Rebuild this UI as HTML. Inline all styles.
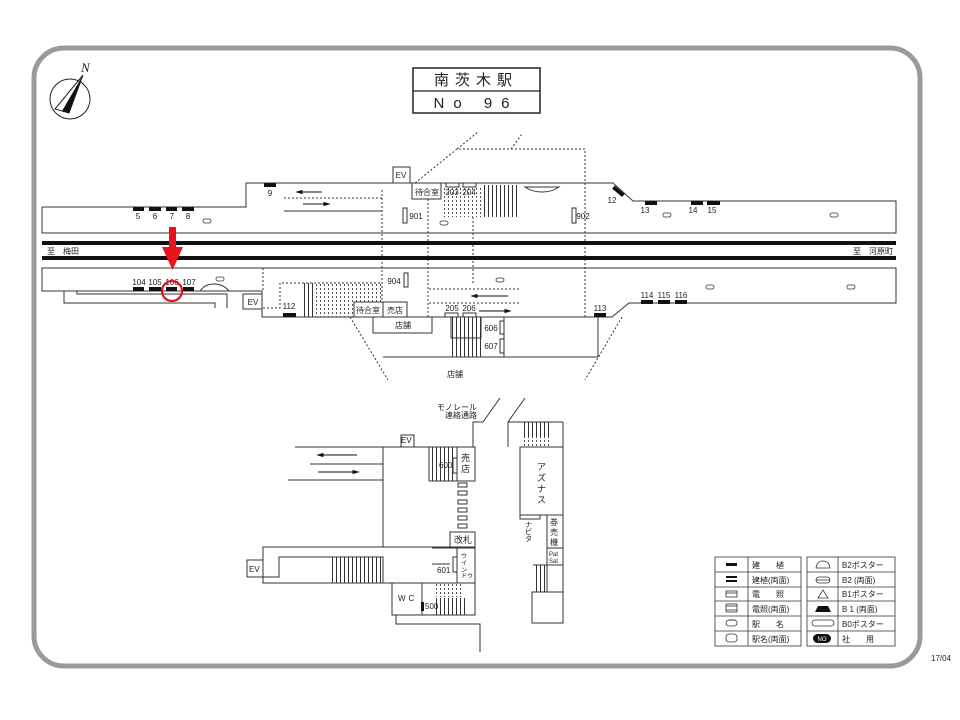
<!DOCTYPE html>
<html><head><meta charset="utf-8"><style>
html,body{margin:0;padding:0;background:#fff}
svg{display:block}
text{font-family:"Liberation Sans","Noto Sans CJK JP",sans-serif;fill:#222}
</style></head><body>
<svg width="960" height="720" viewBox="0 0 960 720" xmlns="http://www.w3.org/2000/svg">
<defs>
<pattern id="dots" width="4" height="4" patternUnits="userSpaceOnUse"><rect width="1" height="2" fill="#555"/></pattern>
<pattern id="vl" width="4" height="4" patternUnits="userSpaceOnUse"><rect width="1" height="4" fill="#333"/></pattern>
</defs>
<rect x="34" y="48" width="886" height="618" rx="30" fill="none" stroke="#9a9a9a" stroke-width="5"/>
<!-- compass -->
<circle cx="70" cy="99" r="20" fill="none" stroke="#222" stroke-width="1"/>
<polygon points="83,75 55,109 69,113" fill="none" stroke="#222"/>
<polygon points="83,75 62,111 69,113" fill="#111"/>
<text x="81" y="72" style="font-family:'Liberation Serif',serif;font-style:italic" font-size="13">N</text>
<!-- title -->
<rect x="413" y="68" width="127" height="45" fill="none" stroke="#222" stroke-width="1.5"/>
<line x1="413" y1="91" x2="540" y2="91" stroke="#222" stroke-width="1.2"/>
<text x="476" y="85" font-size="15" text-anchor="middle" letter-spacing="6">南茨木駅</text>
<text x="476" y="108" font-size="15" text-anchor="middle" letter-spacing="9">No 96</text>

<g fill="none" stroke="#333" stroke-width="1">
<polyline points="42,207 246,207 246,183 613,183 633,201 896,201 896,233 42,233 42,207"/>
<polyline points="42,291 42,268 896,268 896,303 629,303 612,317 262,317 262,291 42,291"/>
<rect x="243" y="294" width="19" height="15"/>
<polyline points="64,291 64,303 215,303 215,308"/>
<polyline points="77,291 77,294 227,294 227,308"/>
<line x1="284" y1="211" x2="382" y2="211"/>
<line x1="284" y1="198" x2="382" y2="198" stroke-dasharray="2,2"/>
<line x1="382" y1="190" x2="382" y2="317" stroke-dasharray="2,2"/>
<line x1="428" y1="183" x2="428" y2="317" stroke-dasharray="2,2"/>
<line x1="473" y1="217" x2="473" y2="283" stroke-dasharray="2,2"/>
<polyline points="415,183 457,149 585,149 585,317" stroke-dasharray="2,2"/>
<line x1="457" y1="149" x2="478" y2="132" stroke-dasharray="2,2"/>
<line x1="511" y1="149" x2="522" y2="134" stroke-dasharray="2,2"/>
<line x1="263" y1="268" x2="263" y2="291" stroke-dasharray="2,2"/>
<polyline points="263,308 280,308 280,283 382,283" stroke-dasharray="2,2"/>
<line x1="429" y1="289" x2="519" y2="289" stroke-dasharray="2,2"/>
<line x1="429" y1="303" x2="519" y2="303" stroke-dasharray="2,2"/>
<line x1="350" y1="317" x2="388" y2="380" stroke-dasharray="2,2"/>
<line x1="622" y1="317" x2="585" y2="380" stroke-dasharray="2,2"/>
<rect x="393" y="167" width="17" height="16"/>
<rect x="412" y="183" width="29" height="16" fill="#fff"/>
<rect x="446" y="183" width="13" height="4"/>
<rect x="463" y="183" width="13" height="4"/>
<rect x="403" y="208" width="4" height="15"/>
<rect x="572" y="208" width="4" height="15"/>
<rect x="404" y="273" width="4" height="14"/>
<rect x="354" y="302" width="29" height="15" fill="#fff"/>
<rect x="383" y="302" width="24" height="15"/>
<rect x="373" y="317" width="59" height="16"/>
<rect x="445" y="313" width="13" height="4"/>
<rect x="463" y="313" width="13" height="4"/>
<rect x="500" y="321" width="4" height="13"/>
<rect x="500" y="339" width="4" height="14"/>
<polyline points="383,357 598,357 598,317"/>
<line x1="504" y1="317" x2="504" y2="357"/>
<rect x="451" y="317" width="30" height="21"/>
</g>
<rect x="441" y="188" width="43" height="29" fill="url(#dots)"/>
<rect x="484" y="185" width="34" height="32" fill="url(#vl)"/>
<rect x="303" y="283" width="12" height="34" fill="url(#vl)"/>
<rect x="315" y="283" width="67" height="19" fill="url(#dots)"/>
<rect x="315" y="302" width="39" height="15" fill="url(#dots)"/>
<rect x="452" y="317" width="29" height="40" fill="url(#vl)"/>
<path d="M525,187 H559 Q552,192 542,192 Q532,192 525,187Z" fill="none" stroke="#333"/>
<path d="M200,291 Q205,284 214,284 Q223,284 229,291Z" fill="none" stroke="#333"/>
<rect x="42" y="241" width="854" height="4" fill="#111"/>
<rect x="42" y="256" width="854" height="4" fill="#111"/>
<text x="47" y="254" font-size="8">至　梅田</text>
<text x="853" y="254" font-size="8">至　河原町</text>
<g fill="#111">
<rect x="133" y="207" width="11" height="4"/><rect x="149" y="207" width="12" height="4"/><rect x="166" y="207" width="11" height="4"/><rect x="182" y="207" width="12" height="4"/>
<rect x="264" y="183" width="12" height="4"/>
<rect x="645" y="201" width="12" height="4"/><rect x="691" y="201" width="12" height="4"/><rect x="707" y="201" width="13" height="4"/>
<rect x="133" y="287" width="11" height="4"/><rect x="149" y="287" width="12" height="4"/><rect x="166" y="287" width="11" height="4"/><rect x="183" y="287" width="11" height="4"/>
<rect x="283" y="313" width="13" height="4"/><rect x="594" y="313" width="12" height="4"/>
<rect x="641" y="300" width="12" height="4"/><rect x="658" y="300" width="12" height="4"/><rect x="675" y="300" width="12" height="4"/>
<rect x="612" y="189" width="13" height="4" transform="rotate(40 618 191)"/>
</g>
<g font-size="8" text-anchor="middle">
<text x="138" y="219">5</text><text x="155" y="219">6</text><text x="172" y="219">7</text><text x="188" y="219">8</text>
<text x="270" y="196">9</text><text x="612" y="203">12</text><text x="645" y="213">13</text><text x="693" y="213">14</text><text x="712" y="213">15</text>
<text x="139" y="285">104</text><text x="155" y="285">105</text><text x="172" y="285">106</text><text x="189" y="285">107</text>
<text x="289" y="309">112</text><text x="600" y="311">113</text>
<text x="647" y="298">114</text><text x="664" y="298">115</text><text x="681" y="298">116</text>
<text x="416" y="219">901</text><text x="583" y="219">902</text><text x="394" y="284">904</text>
<text x="452" y="311">205</text><text x="469" y="311">206</text>
<text x="452" y="195">203</text><text x="469" y="195">204</text>
<text x="491" y="331">606</text><text x="491" y="349">607</text>
<text x="401" y="178">EV</text><text x="253" y="305">EV</text>
<text x="427" y="195">待合室</text><text x="368" y="313">待合室</text><text x="395" y="313">売店</text>
<text x="403" y="328">店舗</text><text x="455" y="377">店舗</text>
</g>
<g fill="none" stroke="#333" stroke-width="0.8">
<rect x="203" y="219" width="8" height="4" rx="2"/><rect x="216" y="277" width="8" height="4" rx="2"/>
<rect x="440" y="221" width="8" height="4" rx="2"/><rect x="496" y="278" width="8" height="4" rx="2"/>
<rect x="663" y="213" width="8" height="4" rx="2"/><rect x="830" y="213" width="8" height="4" rx="2"/>
<rect x="706" y="285" width="8" height="4" rx="2"/><rect x="847" y="285" width="8" height="4" rx="2"/>
</g>
<g stroke="#111" stroke-width="1">
<line x1="299" y1="192" x2="322" y2="192"/><polygon points="297,192 302,190.5 302,193.5" fill="#111"/>
<line x1="303" y1="204" x2="327" y2="204"/><polygon points="329,204 324,202.5 324,205.5" fill="#111"/>
<line x1="474" y1="296" x2="508" y2="296"/><polygon points="472,296 477,294.5 477,297.5" fill="#111"/>
<line x1="479" y1="311" x2="508" y2="311"/><polygon points="510,311 505,309.5 505,312.5" fill="#111"/>
</g>
<rect x="169" y="227" width="7" height="21" fill="#e8141b"/>
<polygon points="162,247 183,247 172.5,270" fill="#e8141b"/>
<circle cx="172" cy="291" r="10" fill="none" stroke="#e8141b" stroke-width="2.2"/>

<g fill="none" stroke="#333" stroke-width="1">
<polyline points="483,422 500,398"/><polyline points="508,422 525,398"/>
<polyline points="483,422 473,422 473,447 295,447"/>
<rect x="401" y="435" width="13" height="12"/>
<line x1="383" y1="447" x2="383" y2="547"/>
<line x1="310" y1="464" x2="383" y2="464"/>
<line x1="288" y1="480" x2="383" y2="480"/>
<rect x="457" y="447" width="18" height="34"/>
<rect x="453" y="458" width="4" height="15"/>
<line x1="429" y1="447" x2="429" y2="481"/><line x1="429" y1="481" x2="457" y2="481"/>
<rect x="458" y="483" width="9" height="4"/><rect x="458" y="491" width="9" height="4"/><rect x="458" y="500" width="9" height="4"/><rect x="458" y="508" width="9" height="4"/><rect x="458" y="516" width="9" height="4"/><rect x="458" y="524" width="9" height="4"/>
<rect x="450" y="532" width="25" height="15"/>
<polyline points="450,547 263,547 263,583 475,583 475,548"/>
<rect x="247" y="560" width="16" height="17"/>
<polyline points="263,577 279,577 279,557 383,557 383,583"/>
<rect x="457" y="548" width="18" height="35"/>
<rect x="453" y="557" width="4" height="15"/>
<line x1="432" y1="548" x2="457" y2="548"/><line x1="432" y1="564" x2="450" y2="564"/>
<rect x="392" y="583" width="30" height="32"/>
<polyline points="422,615 475,615 475,583"/>
<polyline points="396,615 396,624 480,624 480,652"/>
<line x1="508" y1="422" x2="563" y2="422"/><line x1="563" y1="422" x2="563" y2="515"/>
<line x1="508" y1="422" x2="508" y2="447"/>
<rect x="520" y="447" width="43" height="68"/>
<rect x="520" y="515" width="20" height="4"/>
<rect x="547" y="515" width="16" height="33"/>
<rect x="547" y="548" width="16" height="17"/>
<line x1="563" y1="515" x2="563" y2="592"/>
<rect x="532" y="592" width="31" height="31"/>
<polyline points="533,565 547,565 547,592"/>
</g>
<rect x="421" y="602" width="3" height="9" fill="#111"/>
<rect x="330" y="557" width="53" height="26" fill="url(#vl)"/>
<rect x="430" y="447" width="23" height="34" fill="url(#vl)"/>
<rect x="436" y="598" width="32" height="17" fill="url(#vl)"/>
<rect x="436" y="584" width="25" height="13" fill="url(#dots)"/>
<rect x="523" y="422" width="29" height="15" fill="url(#vl)"/>
<rect x="523" y="437" width="29" height="10" fill="url(#dots)"/>
<rect x="534" y="565" width="13" height="27" fill="url(#vl)"/>
<g stroke="#111">
<line x1="320" y1="455" x2="357" y2="455"/><polygon points="318,455 323,453.5 323,456.5" fill="#111"/>
<line x1="318" y1="472" x2="355" y2="472"/><polygon points="358,472 353,470.5 353,473.5" fill="#111"/>
</g>
<g font-size="8">
<text x="437" y="410">モノレール</text><text x="445" y="418">連絡通路</text>
<text x="401" y="443">EV</text><text x="249" y="572">EV</text>
<text x="439" y="468">600</text><text x="437" y="573">601</text><text x="425" y="609">500</text>
<text x="398" y="601" letter-spacing="3">WC</text>
<text x="454" y="543" font-size="9">改札</text>
<text x="461" y="461" font-size="9">売</text><text x="461" y="472" font-size="9">店</text>
<text x="461" y="558" font-size="6">ウ</text><text x="461" y="565" font-size="6">イ</text><text x="461" y="572" font-size="6">ン</text><text x="461" y="578" font-size="6">ドウ</text>
<text x="537" y="470" font-size="9">ア</text><text x="537" y="481" font-size="9">ズ</text><text x="537" y="492" font-size="9">ナ</text><text x="537" y="503" font-size="9">ス</text>
<text x="525" y="527" font-size="7">ナ</text><text x="525" y="534" font-size="7">ビ</text><text x="525" y="541" font-size="7">タ</text>
<text x="550" y="525" font-size="8">券</text><text x="550" y="535" font-size="8">売</text><text x="550" y="545" font-size="8">機</text>
<text x="549" y="556" font-size="6">Pat</text><text x="549" y="563" font-size="6">Sat</text>
</g>

<!-- legend -->
<g fill="none" stroke="#333" stroke-width="0.8">
<rect x="715" y="557" width="86" height="89"/><line x1="748" y1="557" x2="748" y2="646"/>
<rect x="807" y="557" width="88" height="89"/><line x1="838" y1="557" x2="838" y2="646"/>
<line x1="715" y1="572" x2="801" y2="572"/><line x1="715" y1="587" x2="801" y2="587"/><line x1="715" y1="601" x2="801" y2="601"/><line x1="715" y1="616" x2="801" y2="616"/><line x1="715" y1="631" x2="801" y2="631"/>
<line x1="807" y1="572" x2="895" y2="572"/><line x1="807" y1="587" x2="895" y2="587"/><line x1="807" y1="601" x2="895" y2="601"/><line x1="807" y1="616" x2="895" y2="616"/><line x1="807" y1="631" x2="895" y2="631"/>
<rect x="726" y="591" width="11" height="6"/><line x1="726" y1="593" x2="737" y2="593"/>
<rect x="726" y="604" width="11" height="8"/><line x1="726" y1="606" x2="737" y2="606"/><line x1="726" y1="610" x2="737" y2="610"/>
<rect x="726" y="620" width="11" height="6" rx="3"/><line x1="728" y1="620" x2="735" y2="620"/>
<rect x="726" y="634" width="11" height="8" rx="3"/>
<path d="M816,568 Q817,561 823,561 Q829,561 830,568Z"/>
<rect x="816" y="577" width="14" height="6" rx="3"/><line x1="816" y1="580" x2="830" y2="580"/>
<polygon points="823,590 818,598 828,598"/>
<rect x="812" y="620" width="22" height="6" rx="3"/>
</g>
<rect x="726" y="563" width="11" height="3" fill="#111"/>
<rect x="726" y="576" width="11" height="2" fill="#111"/><rect x="726" y="580" width="11" height="2" fill="#111"/>
<path d="M815,612 L818,606 L828,606 L831,612Z" fill="#111"/>
<rect x="813" y="634" width="18" height="9" rx="4.5" fill="#111"/>
<text x="822" y="641" font-size="6" text-anchor="middle" style="fill:#fff">NO</text>
<g font-size="8">
<text x="752" y="568">建　　植</text><text x="752" y="583">建植(両面)</text><text x="752" y="597">電　　照</text><text x="752" y="612">電照(両面)</text><text x="752" y="627">駅　　名</text><text x="752" y="642">駅名(両面)</text>
<text x="842" y="568">B2ポスター</text><text x="842" y="583">B2 (両面)</text><text x="842" y="597">B1ポスター</text><text x="842" y="612">B 1 (両面)</text><text x="842" y="627">B0ポスター</text><text x="842" y="642">社　　用</text>
</g>
<text x="931" y="661" font-size="8">17/04</text>
</svg>
</body></html>
